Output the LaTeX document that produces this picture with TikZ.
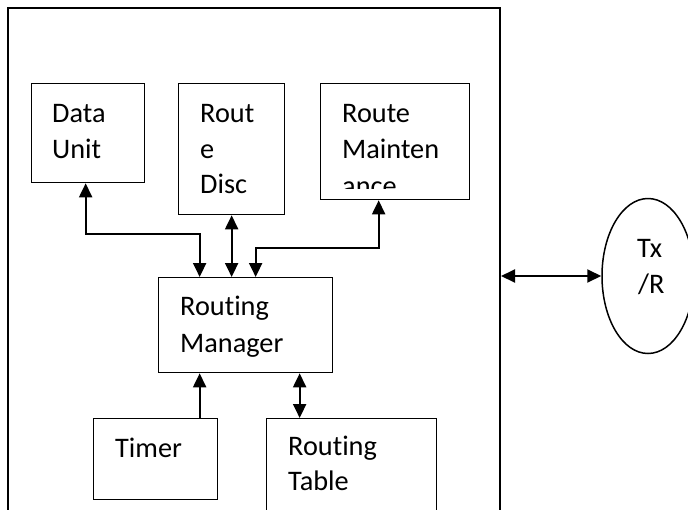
\documentclass[tikz,border=0pt]{standalone}
\usepackage{fontspec}
\setmainfont{Carlito}[Ligatures=NoCommon]
\usetikzlibrary{arrows.meta,shapes.geometric}

\tikzset{
  block/.style={draw, line width=1.3pt, rectangle, inner sep=0pt, anchor=north west},
  label/.style={anchor=base west, inner sep=0pt, align=left,
    font=\fontsize{28.3}{37}\selectfont},
  link/.style={line width=2pt},
  biarrow/.style={link, {Triangle[length=14pt,width=13pt]}-{Triangle[length=14pt,width=13pt]}},
  onearrow/.style={link, -{Triangle[length=14pt,width=13pt]}},
}

\begin{document}
\begin{tikzpicture}[x=1pt,y=-1pt]
  \useasboundingbox (0,0) rectangle (688,509);

  % enclosing routing module
  \node[block, line width=2pt, minimum width=492pt, minimum height=530pt] (sys) at (7,7) {};

  % functional blocks
  \node[block, minimum width=113pt, minimum height=99pt]  (du)  at (31,83)  {};
  \node[block, minimum width=106pt, minimum height=131pt] (rd)  at (178,83) {};
  \node[block, minimum width=149pt, minimum height=116pt] (rmt) at (320,83) {};
  \node[block, minimum width=174pt, minimum height=95pt]  (rm)  at (158,277) {};
  \node[block, minimum width=124pt, minimum height=81pt]  (tm)  at (93,418) {};
  \node[block, minimum width=170pt, minimum height=110pt] (rt)  at (266,418) {};

  % transceiver
  \node[draw, ellipse, line width=1.5pt, inner sep=0pt,
        minimum width=92pt, minimum height=155pt] (tx) at (648,276) {};

  % block texts
  \node[label] (duT1) at (52,122) {Data};
  \node[label] (duT2) at (52,158) {Unit};
  \node[label] (rdT1) at (200,122) {Rout};
  \node[label] (rdT2) at (200,158) {e};
  \node[label] (rdT3) at (200,193) {Disc};
  \node[label] (rmtT1) at (342,122) {Route};
  \node[label] (rmtT2) at (342,158) {Mainten};
  \begin{scope}
    \clip (321,160) rectangle (468,188);
    \node[label] (rmtT3) at (342,195) {ance};
  \end{scope}
  \node[label] (rmT1) at (180,315) {Routing};
  \node[label] (rmT2) at (180,352) {Manager};
  \node[label] (tmT) at (115,457) {Timer};
  \node[label] (rtT1) at (288,455) {Routing};
  \node[label] (rtT2) at (288,490) {Table};
  \node[label] (txT1) at (637,257) {Tx};
  \node[label] (txT2) at (638,293) {/R};

  % connectors
  \draw[biarrow] ([xshift=-2.5pt]du.south) -- ++(0,51) -| ([xshift=-46pt]rm.north);
  \draw[biarrow] (rd.south) -- (rd.south |- rm.north);
  \draw[biarrow] ([xshift=10pt]rm.north) -- ++(0,-29) -| ([xshift=-16.5pt]rmt.south);
  \draw[onearrow] ([xshift=44pt]tm.north) -- ([xshift=44pt]tm.north |- rm.south);
  \draw[biarrow] ([xshift=54pt]rm.south) -- ([xshift=54pt]rm.south |- rt.north);
  \draw[biarrow] (sys.east |- tx.west) -- (tx.west);
\end{tikzpicture}
\end{document}
